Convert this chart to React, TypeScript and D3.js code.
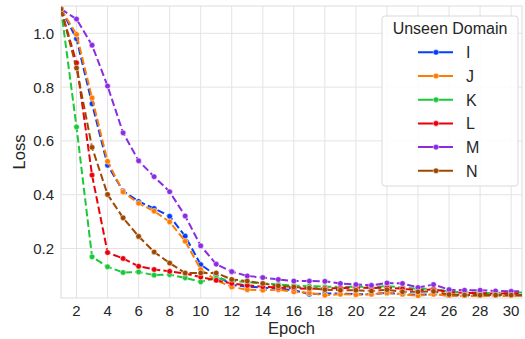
import React, { useRef, useEffect } from 'react';
import * as d3 from 'd3';

// epochs 1..31 (last one sits just past the right edge and gets clipped)
const epochs = d3.range(1, 32);

const lossI = [1.09, 0.98, 0.738, 0.51, 0.414, 0.375, 0.349, 0.32, 0.246, 0.14, 0.10, 0.065, 0.058, 0.055, 0.05, 0.045, 0.03, 0.033, 0.032, 0.03, 0.03, 0.035, 0.03, 0.028, 0.03, 0.025, 0.025, 0.025, 0.025, 0.025, 0.025];
const lossJ = [1.09, 0.996, 0.76, 0.524, 0.41, 0.368, 0.339, 0.299, 0.227, 0.122, 0.082, 0.057, 0.047, 0.045, 0.047, 0.039, 0.035, 0.026, 0.03, 0.028, 0.03, 0.035, 0.03, 0.024, 0.03, 0.024, 0.023, 0.023, 0.023, 0.024, 0.024];
const lossK = [1.09, 0.652, 0.169, 0.132, 0.111, 0.113, 0.101, 0.103, 0.091, 0.076, 0.09, 0.08, 0.075, 0.07, 0.066, 0.062, 0.06, 0.058, 0.057, 0.058, 0.057, 0.06, 0.055, 0.05, 0.05, 0.04, 0.037, 0.035, 0.035, 0.036, 0.036];
const lossL = [1.09, 0.89, 0.473, 0.185, 0.163, 0.134, 0.122, 0.115, 0.107, 0.094, 0.082, 0.07, 0.063, 0.058, 0.055, 0.052, 0.05, 0.052, 0.052, 0.055, 0.053, 0.055, 0.05, 0.045, 0.048, 0.038, 0.035, 0.033, 0.033, 0.033, 0.033];
const lossM = [1.09, 1.053, 0.956, 0.804, 0.63, 0.526, 0.467, 0.411, 0.321, 0.21, 0.142, 0.114, 0.098, 0.092, 0.085, 0.079, 0.079, 0.078, 0.07, 0.066, 0.063, 0.072, 0.07, 0.055, 0.066, 0.047, 0.045, 0.045, 0.042, 0.041, 0.041];
const lossN = [1.09, 0.871, 0.576, 0.401, 0.314, 0.245, 0.187, 0.146, 0.109, 0.109, 0.109, 0.085, 0.079, 0.07, 0.061, 0.057, 0.053, 0.047, 0.045, 0.045, 0.042, 0.047, 0.039, 0.039, 0.041, 0.029, 0.027, 0.027, 0.027, 0.027, 0.027];

const domains = ['I', 'J', 'K', 'L', 'M', 'N'];
const colors = ['#023eff', '#ff7c00', '#1ac938', '#e8000b', '#8b2be2', '#9f4800'];
const xTicks = [2, 4, 6, 8, 10, 12, 14, 16, 18, 20, 22, 24, 26, 28, 30];
const yTicks = [0.2, 0.4, 0.6, 0.8, 1.0];

const App = () => {
  const svgRef = useRef<SVGSVGElement>(null);

  useEffect(() => {
    const width = 525;
    const height = 339;
    const left = 61, right = 522, top = 6, bottom = 298;
    const font = '"Liberation Sans", Arial, sans-serif';

    const svg = d3.select(svgRef.current);
    svg.selectAll('*').remove();
    svg.attr('width', width).attr('height', height);

    const x = d3.scaleLinear().domain([1, 30.7]).range([left, right]);
    const y = d3.scaleLinear().domain([0.016, 1.1016]).range([bottom, top]);

    svg.append('rect').attr('width', width).attr('height', height).attr('fill', '#fff');

    // grid
    const grid = svg.append('g');
    grid.selectAll('.gx').data(xTicks).enter().append('line')
      .attr('x1', d => x(d)).attr('x2', d => x(d))
      .attr('y1', top).attr('y2', bottom)
      .attr('stroke', '#e3e3e3').attr('stroke-width', 1);
    grid.selectAll('.gy').data(yTicks).enter().append('line')
      .attr('x1', left).attr('x2', right)
      .attr('y1', d => y(d)).attr('y2', d => y(d))
      .attr('stroke', '#e3e3e3').attr('stroke-width', 1);

    // spines
    svg.append('rect')
      .attr('x', left).attr('y', top)
      .attr('width', right - left).attr('height', bottom - top)
      .attr('fill', 'none').attr('stroke', '#dcdcdc').attr('stroke-width', 1);

    // tick labels
    svg.append('g').selectAll('text').data(xTicks).enter().append('text')
      .attr('x', d => x(d)).attr('y', 316)
      .attr('text-anchor', 'middle')
      .attr('font-family', font).attr('font-size', 15).attr('fill', '#262626')
      .text(d => d);
    svg.append('g').selectAll('text').data(yTicks).enter().append('text')
      .attr('x', 54).attr('y', d => y(d) + 5.5)
      .attr('text-anchor', 'end')
      .attr('font-family', font).attr('font-size', 15).attr('fill', '#262626')
      .text(d => d.toFixed(1));

    // axis titles
    svg.append('text')
      .attr('x', (left + right) / 2).attr('y', 334)
      .attr('text-anchor', 'middle')
      .attr('font-family', font).attr('font-size', 16.5).attr('fill', '#262626')
      .text('Epoch');
    svg.append('text')
      .attr('transform', `translate(25,${(top + bottom) / 2}) rotate(-90)`)
      .attr('text-anchor', 'middle')
      .attr('font-family', font).attr('font-size', 16.5).attr('fill', '#262626')
      .text('Loss');

    // lines
    svg.append('clipPath').attr('id', 'plot-clip')
      .append('rect').attr('x', left).attr('y', top)
      .attr('width', right - left).attr('height', bottom - top);

    const series = [lossI, lossJ, lossK, lossL, lossM, lossN];
    const line = d3.line<number>().x((d, i) => x(epochs[i])).y(d => y(d));
    const plot = svg.append('g').attr('clip-path', 'url(#plot-clip)');

    series.forEach((vals, k) => {
      const g = plot.append('g');
      g.append('path')
        .attr('d', line(vals))
        .attr('fill', 'none')
        .attr('stroke', colors[k])
        .attr('stroke-width', 2)
        .attr('stroke-dasharray', '7.4,3.2');
      g.selectAll('circle').data(vals).enter().append('circle')
        .attr('cx', (d, i) => x(epochs[i]))
        .attr('cy', d => y(d))
        .attr('r', 2.8)
        .attr('fill', colors[k])
        .attr('stroke', '#fff')
        .attr('stroke-width', 0.5);
    });

    // legend
    const legend = svg.append('g');
    legend.append('rect')
      .attr('x', 382).attr('y', 16)
      .attr('width', 136).attr('height', 170)
      .attr('rx', 3)
      .attr('fill', '#fff').attr('fill-opacity', 0.85)
      .attr('stroke', '#d9d9d9').attr('stroke-width', 1);
    legend.append('text')
      .attr('x', 450).attr('y', 34)
      .attr('text-anchor', 'middle')
      .attr('font-family', font).attr('font-size', 16).attr('fill', '#262626')
      .text('Unseen Domain');
    const items = legend.selectAll('.item').data(domains).enter().append('g')
      .attr('transform', (d, i) => `translate(0,${52.3 + i * 23.7})`);
    items.append('line')
      .attr('x1', 418).attr('x2', 453).attr('y1', 0).attr('y2', 0)
      .attr('stroke', (d, i) => colors[i]).attr('stroke-width', 2);
    items.append('circle')
      .attr('cx', 436).attr('cy', 0).attr('r', 2.8)
      .attr('fill', (d, i) => colors[i])
      .attr('stroke', '#fff').attr('stroke-width', 0.5);
    items.append('text')
      .attr('x', 466).attr('y', 6)
      .attr('font-family', font).attr('font-size', 16).attr('fill', '#262626')
      .text(d => d);
  }, []);

  return (
    <svg ref={svgRef} style={{ position: 'absolute', left: 0, top: 0 }}></svg>
  );
};

export default App;
